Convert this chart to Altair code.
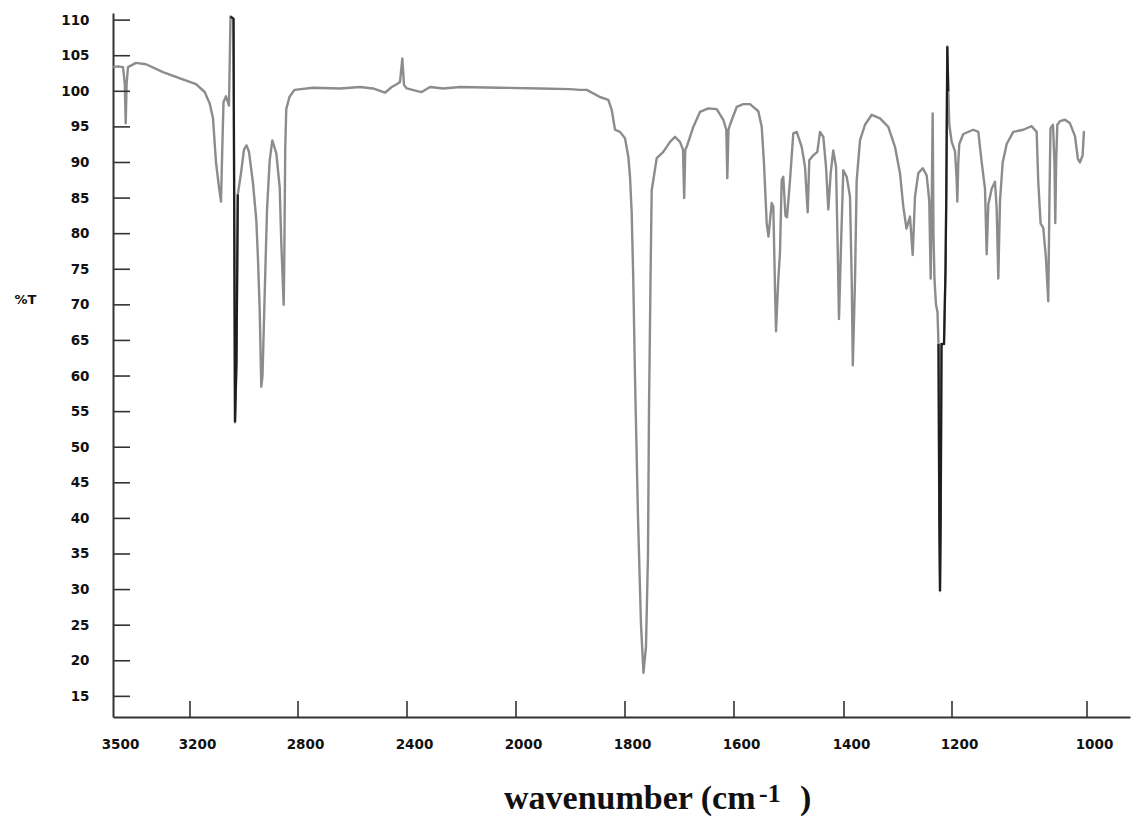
import altair as alt
import pandas as pd

# ---- spectrum values ----
wavenumber = [
    3500, 3481, 3461, 3454, 3450.5, 3447, 3441.6, 3410.4, 3371.4, 3305.2,
    3238.9, 3177.8, 3145.6, 3127.0, 3114.8, 3103.7, 3092.6, 3085.2, 3080.4, 3075.9,
    3066.7, 3055.6, 3050.0, 3038.9, 3033.3, 3027.8, 3023.0, 3011.1, 3000.0, 2990.7,
    2981.5, 2966.7, 2954.4, 2948.1, 2941.9, 2936.0, 2931.5, 2923.3, 2914.8, 2904.8,
    2895.2, 2880.4, 2867.8, 2861.9, 2853.0, 2850.9, 2847.2, 2843.5, 2831.7, 2813.2,
    2745.0, 2645.9, 2572.5, 2524.8, 2480.7, 2456.1, 2437.8, 2425.7, 2417.2, 2411.0,
    2401.1, 2358.5, 2346.1, 2315.6, 2266.8, 2205.5, 2058.7, 1956.0, 1900.9, 1882.6,
    1870.3, 1845.9, 1830.6, 1824.4, 1818.3, 1809.2, 1800.0, 1793.9, 1790.8, 1787.7,
    1784.8, 1781.7, 1776.1, 1770.6, 1766.1, 1761.5, 1757.8, 1756.0, 1753.2, 1751.0,
    1741.8, 1729.7, 1717.4, 1708.3, 1699.1, 1693.6, 1691.4, 1689.4, 1686.8, 1674.7,
    1662.4, 1647.2, 1631.8, 1619.6, 1614.1, 1612.3, 1610.1, 1607.3, 1595.1, 1583.1,
    1570.9, 1555.8, 1549.6, 1545.5, 1540.5, 1537.3, 1531.5, 1528.5, 1525.5, 1523.6,
    1519.5, 1516.4, 1513.3, 1510.4, 1506.4, 1503.6, 1498.2, 1492.2, 1486.0, 1476.9,
    1470.9, 1466.0, 1463.1, 1455.8, 1448.5, 1443.6, 1437.6, 1432.7, 1428.5, 1424.2,
    1419.5, 1414.5, 1411.5, 1409.1, 1405.5, 1401.3, 1395.0, 1388.9, 1385.7, 1383.7,
    1379.6, 1376.5, 1370.4, 1361.1, 1348.7, 1333.3, 1318.0, 1305.6, 1296.3, 1290.2,
    1284.3, 1277.8, 1272.8, 1268.5, 1262.4, 1254.3, 1246.9, 1242.1, 1239.5, 1237.4,
    1235.8, 1234.3, 1232.4, 1229.6, 1226.9, 1225.0, 1223.5, 1222.2, 1220.9, 1219.4,
    1214.8, 1212.0, 1210.5, 1208.7, 1206.9, 1205.0, 1200.6, 1195.6, 1193.3, 1192.1,
    1190.7, 1189.2, 1183.3, 1168.4, 1161.0, 1156.0, 1151.1, 1148.6, 1146.2, 1141.2,
    1136.3, 1133.8, 1131.4, 1128.9, 1124.9, 1119.0, 1109.2, 1094.4, 1082.0, 1074.6,
    1072.2, 1068.7, 1064.8, 1060.8, 1057.4, 1055.6, 1054.1, 1050.4, 1048.2, 1047.0,
    1045.7, 1044.0, 1040.0, 1032.6, 1025.2, 1017.8, 1013.5, 1010.5, 1006.5, 1004.6,
    1003.2,
]
transmittance = [
    103.4, 103.5, 103.4, 101.0, 95.5, 101.0, 103.4, 104.0, 103.8, 102.7,
    101.8, 101.0, 99.9, 98.3, 96.2, 90.0, 86.5, 84.5, 92.0, 98.5,
    99.3, 98.0, 110.5, 110.2, 53.5, 62.0, 85.5, 88.5, 91.8, 92.4,
    91.5, 87.1, 81.9, 76.3, 69.3, 58.5, 60.0, 71.6, 83.3, 90.3,
    93.1, 91.3, 86.5, 78.7, 70.0, 76.0, 92.0, 97.5, 99.2, 100.2,
    100.5, 100.4, 100.6, 100.4, 99.8, 100.6, 101.0, 101.3, 104.6, 100.9,
    100.4, 100.0, 99.9, 100.6, 100.4, 100.6, 100.5, 100.4, 100.3, 100.2,
    100.2, 99.2, 98.8, 97.4, 94.6, 94.3, 93.4, 90.8, 88.0, 82.9,
    73.5, 60.0, 40.0, 25.0, 18.3, 22.0, 35.0, 55.0, 73.5, 86.1,
    90.6, 91.5, 92.9, 93.6, 92.9, 91.8, 85.0, 91.8, 92.2, 95.0,
    97.1, 97.6, 97.5, 96.0, 94.6, 87.8, 94.6, 95.3, 97.8, 98.2,
    98.2, 97.2, 95.0, 89.9, 81.4, 79.6, 84.3, 83.8, 72.5, 66.3,
    73.5, 77.3, 87.5, 88.0, 82.5, 82.3, 87.5, 94.1, 94.3, 92.2,
    89.4, 83.0, 90.3, 91.0, 91.5, 94.3, 93.6, 89.4, 83.4, 88.5,
    91.7, 89.4, 78.2, 68.0, 78.2, 88.9, 88.0, 85.2, 73.5, 61.5,
    73.5, 87.5, 93.1, 95.3, 96.7, 96.2, 95.0, 92.2, 88.5, 83.8,
    80.7, 82.4, 77.0, 85.2, 88.5, 89.2, 88.2, 84.6, 73.7, 85.0,
    96.9, 80.0, 73.5, 70.0, 69.0, 64.5, 40.0, 29.8, 40.0, 64.5,
    64.5, 75.0, 86.0, 106.3, 100.0, 95.3, 92.9, 91.6, 88.0, 84.5,
    90.0, 92.6, 94.0, 94.6, 94.3, 90.0, 86.3, 77.1, 84.1, 86.3,
    87.3, 83.5, 73.7, 84.6, 90.0, 92.6, 94.3, 94.6, 95.1, 94.3,
    87.3, 81.4, 80.8, 76.6, 70.5, 85.0, 94.8, 95.3, 90.0, 81.5,
    90.0, 95.3, 95.8, 96.0, 95.5, 93.7, 90.5, 90.0, 91.0, 94.3,
    94.3,
]

# axis tick values / labels
x_label_values = [3500, 3200, 2800, 2400, 2000, 1800, 1600, 1400, 1200, 1000]
x_tick_marks = [3200, 2800, 2400, 2000, 1800, 1600, 1400, 1200, 1000]
y_tick_values = [15, 20, 25, 30, 35, 40, 45, 50, 55, 60, 65, 70, 75, 80, 85,
                 90, 95, 100, 105, 110]
title_parts = ["wavenumber (cm", "-1", ")"]

# piecewise (compressed) wavenumber axis, as in the original plot
x_domain = [3500, 3200, 2800, 2400, 2000, 1800, 1600, 1400, 1200, 1000, 936]
x_range = [0, 77, 185, 294, 403, 512, 621, 731, 839, 974, 1017]

W, H = 1017, 704

df = pd.DataFrame({"w": wavenumber, "t": transmittance})

x_scale = alt.Scale(domain=x_domain, range=x_range, nice=False, zero=False)
y_scale = alt.Scale(domain=[12.1, 111], nice=False, zero=False)

LABEL_FONT = "DejaVu Sans"

x_axis = alt.Axis(
    values=x_label_values, format="d", ticks=False, tickSize=0, grid=False,
    labelFlush=False, labelOverlap=False, labelOffset=7, labelPadding=20,
    labelFont=LABEL_FONT, labelFontWeight="bold", labelFontSize=13.5,
    labelColor="#111111", domainColor="#333333", domainWidth=2, title=None,
)
y_axis = alt.Axis(
    values=y_tick_values, format="d", ticks=False, tickSize=0, grid=False,
    labelOverlap=False, labelPadding=24,
    labelFont=LABEL_FONT, labelFontWeight="bold", labelFontSize=13.5,
    labelColor="#111111", domainColor="#333333", domainWidth=2,
    title="%T", titleAngle=0, titleX=-88, titleY=286, titleAlign="center",
    titleBaseline="middle", titleFont=LABEL_FONT, titleFontWeight="bold",
    titleFontSize=13, titleColor="#111111",
)

X = alt.X("w:Q", scale=x_scale, axis=x_axis)
Y = alt.Y("t:Q", scale=y_scale, axis=y_axis)

line = alt.Chart(df).mark_line(
    color="#8c8c8c", strokeWidth=2.4, strokeJoin="round"
).encode(x=X, y=Y)

dark1 = alt.Chart(df).transform_filter(
    "datum.w >= 3022 && datum.w <= 3052"
).mark_line(color="#1e1e1e", strokeWidth=2.2).encode(x=X, y=Y)

dark2 = alt.Chart(df).transform_filter(
    "datum.w >= 1206 && datum.w <= 1226"
).mark_line(color="#1e1e1e", strokeWidth=2.2).encode(x=X, y=Y)

x_ticks = alt.Chart(pd.DataFrame({"w": x_tick_marks})).mark_rule(
    color="#333333", strokeWidth=1.6
).encode(x=X, y=alt.value(H - 16), y2=alt.value(H))

y_ticks = alt.Chart(pd.DataFrame({"t": y_tick_values})).mark_rule(
    color="#333333", strokeWidth=1.6
).encode(y=Y, x=alt.value(0), x2=alt.value(17))

title_main = alt.Chart(pd.DataFrame({"s": [title_parts[0]]})).mark_text(
    align="left", baseline="alphabetic", font="Liberation Serif",
    fontWeight="bold", fontSize=34, color="#111111"
).encode(text="s:N", x=alt.value(391), y=alt.value(796))

title_sup = alt.Chart(pd.DataFrame({"s": [title_parts[1]]})).mark_text(
    align="left", baseline="alphabetic", font="Liberation Serif",
    fontWeight="bold", fontSize=26, color="#111111"
).encode(text="s:N", x=alt.value(646), y=alt.value(789))

title_close = alt.Chart(pd.DataFrame({"s": [title_parts[2]]})).mark_text(
    align="left", baseline="alphabetic", font="Liberation Serif",
    fontWeight="bold", fontSize=34, color="#111111"
).encode(text="s:N", x=alt.value(687), y=alt.value(796))

chart = alt.layer(
    line, dark1, dark2, x_ticks, y_ticks, title_main, title_sup, title_close
).properties(
    width=W, height=H,
    autosize=alt.AutoSizeParams(type="none"),
    padding={"left": 113, "top": 13, "right": 3, "bottom": 104},
    background="white",
).configure_view(strokeWidth=0)

chart.save("out.html", embed_options={"renderer": "svg", "actions": False})
